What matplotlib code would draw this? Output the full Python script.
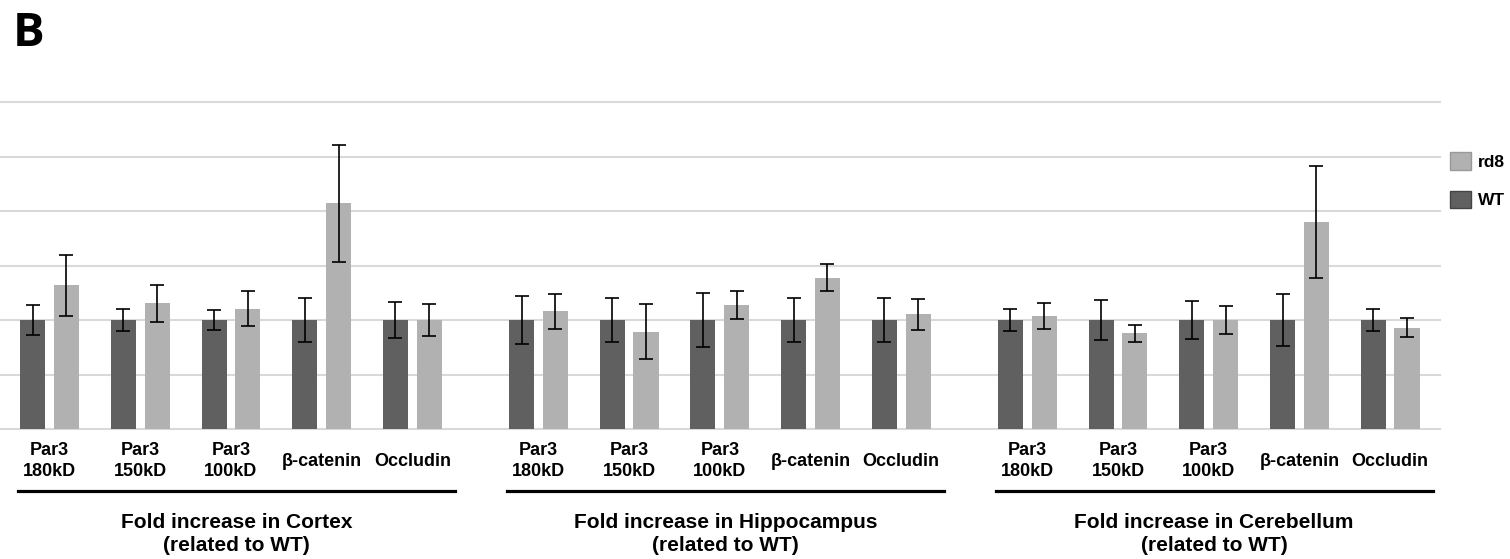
import matplotlib
matplotlib.use("Agg")
import matplotlib.pyplot as plt
from matplotlib.transforms import blended_transform_factory
from matplotlib.lines import Line2D
from matplotlib.patches import Patch
import numpy as np

# data (fold change, WT = 1)
genes = ["Par3\n180kD", "Par3\n150kD", "Par3\n100kD", "β-catenin", "Occludin"]
regions = ["Cortex", "Hippocampus", "Cerebellum"]

wt_mean = [
    [1.0, 1.0, 1.0, 1.0, 1.0],
    [1.0, 1.0, 1.0, 1.0, 1.0],
    [1.0, 1.0, 1.0, 1.0, 1.0],
]
wt_err = [
    [0.14, 0.10, 0.095, 0.20, 0.165],
    [0.22, 0.20, 0.25, 0.20, 0.20],
    [0.105, 0.18, 0.175, 0.235, 0.10],
]
rd8_mean = [
    [1.32, 1.155, 1.105, 2.07, 1.0],
    [1.08, 0.893, 1.138, 1.388, 1.052],
    [1.04, 0.878, 1.0, 1.896, 0.93],
]
rd8_err = [
    [0.28, 0.17, 0.16, 0.54, 0.15],
    [0.16, 0.25, 0.13, 0.125, 0.14],
    [0.12, 0.08, 0.13, 0.515, 0.09],
]

WT_COLOR = "#606060"
RD8_COLOR = "#b1b1b1"
GRID_COLOR = "#d9d9d9"
LABEL_FONT = ["Liberation Sans", "DejaVu Sans"]

group_step = 5.39
bar_w = 0.276
off = 0.186

fig = plt.figure(figsize=(15.1, 5.59), dpi=100)
ax = fig.add_axes([0.0, 130 / 559, 1440 / 1510, 327 / 559])

for g, region in enumerate(regions):
    x = g * group_step + np.arange(len(genes))
    ax.bar(x - off, wt_mean[g], width=bar_w, color=WT_COLOR, zorder=3,
           yerr=wt_err[g], error_kw=dict(ecolor="black", elinewidth=1.2, capsize=5, capthick=1.2, zorder=4))
    ax.bar(x + off, rd8_mean[g], width=bar_w, color=RD8_COLOR, zorder=3,
           yerr=rd8_err[g], error_kw=dict(ecolor="black", elinewidth=1.2, capsize=5, capthick=1.2, zorder=4))

ax.set_xlim(-0.546, 15.33)
ax.set_ylim(0, 3.0)
ax.set_yticks(np.arange(0, 3.01, 0.5))
ax.yaxis.grid(True, color=GRID_COLOR, linewidth=1.5, zorder=0)
for sp in ax.spines.values():
    sp.set_visible(False)
ax.tick_params(left=False, bottom=False, labelleft=False, labelbottom=False)
for gl in ax.get_ygridlines():
    gl.set_clip_on(False)

trans = blended_transform_factory(ax.transData, fig.transFigure)
for g, region in enumerate(regions):
    base = g * group_step
    for i, name in enumerate(genes):
        ax.text(base + i, 1 - 461 / 559, name, transform=trans, ha="center", va="center",
                fontsize=13, fontweight="bold", family=LABEL_FONT, linespacing=1.33)
    line = Line2D([base - 0.35, base + 4.47], [1 - 491 / 559] * 2, transform=trans,
                  color="black", linewidth=2.3, clip_on=False)
    fig.add_artist(line)
    ax.text(base + 2.06, 1 - 534 / 559, f"Fold increase in {region}\n(related to WT)",
            transform=trans, ha="center", va="center", fontsize=15, fontweight="bold",
            family=LABEL_FONT, linespacing=1.33)

handles = [Patch(facecolor=RD8_COLOR, edgecolor="#999999", label="rd8"),
           Patch(facecolor=WT_COLOR, edgecolor="#444444", label="WT")]
fig.legend(handles=handles, loc="upper left", bbox_to_anchor=(1450 / 1510, 1 - 152 / 559),
           frameon=False, prop=dict(weight="bold", size=12.5, family=LABEL_FONT),
           handlelength=1.2, handleheight=1.2, handletextpad=0.4, labelspacing=1.2,
           borderpad=0, borderaxespad=0)

fig.text(13 / 1510, 1 - 34 / 559, "B", fontsize=34, fontweight="bold", family=["Open Sans", "DejaVu Sans"],
         ha="left", va="center")

fig.savefig("out.png", dpi=100)
